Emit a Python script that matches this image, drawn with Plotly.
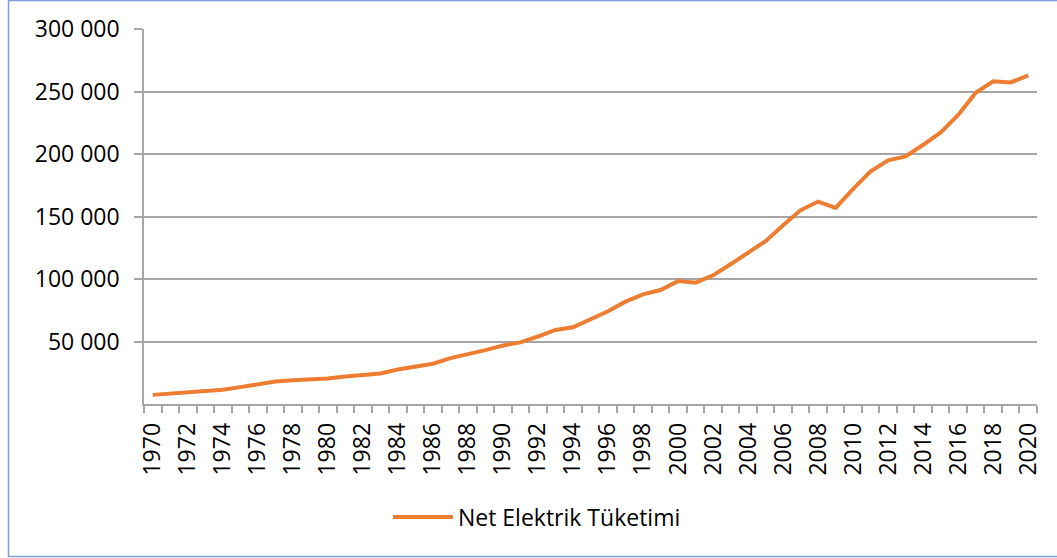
"""Net electricity consumption line chart, Excel style."""

import plotly.graph_objects as go

years = list(range(1970, 2021))
consumption = [
    7308, 8289, 9527, 10530, 11359, 13492, 16079, 17970, 18932, 19568,
    20398, 22030, 23587, 24465, 27635, 29709, 32209, 36698, 39720, 43120,
    46820, 49283, 53985, 59237, 61401, 67394, 74157, 81885, 87705, 91202,
    98296, 97070, 102948, 111766, 121142, 130263, 143071, 155135, 161948, 156894,
    172051, 186100, 194923, 198045, 207375, 217312, 231204, 249022, 258232, 257274,
    262900,
]
series_name = 'Net Elektrik Tüketimi'

x_tick_years = list(range(1970, 2021, 2))
y_tick_vals = [50000, 100000, 150000, 200000, 250000, 300000]
y_tick_text = ['50 000', '100 000', '150 000', '200 000', '250 000', '300 000']

W, H = 1057, 558
L, R, T, B = 144, 20, 29, 154
PW, PH = W - L - R, H - T - B

FONT = dict(family='"Open Sans", Lato, sans-serif', size=23, color='#000000')
GRID = '#A6A6A6'

fig = go.Figure()
fig.add_trace(go.Scatter(
    x=years,
    y=consumption,
    mode='lines',
    name=series_name,
    line=dict(color='#ED7D31', width=4),
))


def px_to_paper_x(px):
    return (px - L) / PW


def px_to_paper_y(py):
    return (H - B - py) / PH


# outer chart border (light blue)
fig.add_shape(
    type='rect', xref='paper', yref='paper',
    x0=px_to_paper_x(8.5), x1=px_to_paper_x(1062),
    y0=px_to_paper_y(556.5), y1=px_to_paper_y(0.5),
    line=dict(color='#7F9FDB', width=1.5),
    layer='below',
)

fig.update_layout(
    width=W, height=H,
    margin=dict(l=L, r=R, t=T, b=B, autoexpand=False),
    paper_bgcolor='white',
    plot_bgcolor='white',
    font=FONT,
    showlegend=True,
    legend=dict(
        orientation='h', x=0.44, xanchor='center',
        y=px_to_paper_y(517), yanchor='middle',
        font=dict(size=23),
        itemwidth=60,
        bgcolor='rgba(0,0,0,0)',
    ),
    xaxis=dict(
        range=[1969.5, 2020.5],
        tickmode='array',
        tickvals=x_tick_years,
        ticktext=[str(y) for y in x_tick_years],
        tickangle=-90,
        ticks='',
        showgrid=False,
        zeroline=False,
        showline=True,
        linecolor=GRID,
        linewidth=1.5,
        minor=dict(ticks='outside', tick0=1969.5, dtick=1, ticklen=7,
                   tickcolor=GRID, tickwidth=1.5, showgrid=False),
        ticklabelstandoff=8,
    ),
    yaxis=dict(
        range=[0, 300000],
        tickmode='array',
        tickvals=y_tick_vals,
        ticktext=y_tick_text,
        ticks='outside',
        ticklen=8,
        tickcolor=GRID,
        tickwidth=1.5,
        showgrid=True,
        gridcolor=GRID,
        gridwidth=1.5,
        zeroline=False,
        showline=True,
        linecolor=GRID,
        linewidth=1.5,
        ticklabelstandoff=10,
    ),
)

# the page's default body margin would push the chart 8px right and down
fig.write_html(
    'out.html',
    config={'displayModeBar': False},
    post_script="document.body.style.margin='0';",
)
